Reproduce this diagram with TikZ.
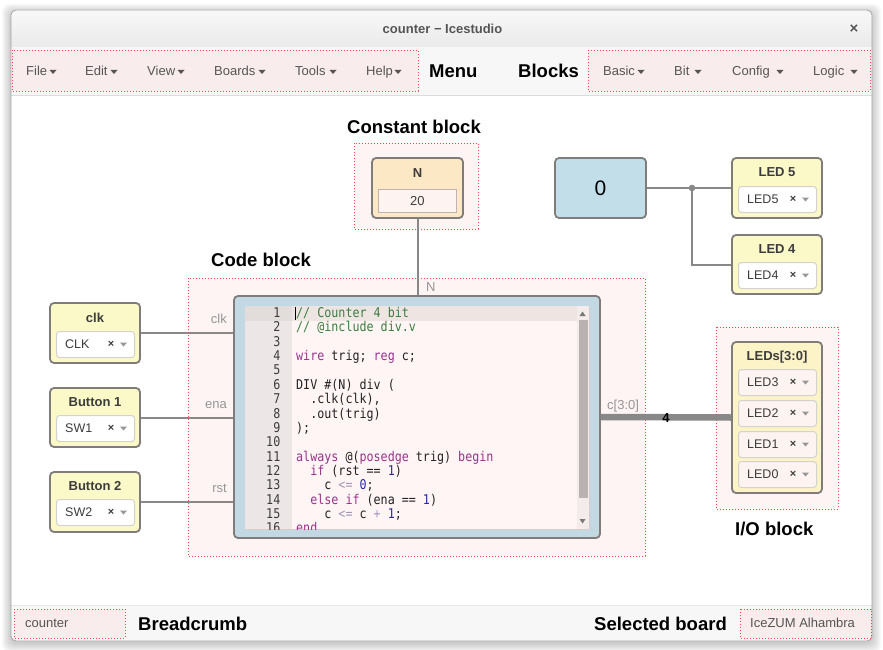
\documentclass[tikz,border=0pt]{standalone}
\usepackage{fontspec}
\usepackage{graphicx}
\setmainfont{Liberation Sans}
\newfontfamily\codefont{DejaVu Sans Mono}
\usetikzlibrary{calc}
\definecolor{wirec}{RGB}{136,136,136}
\definecolor{bordc}{RGB}{128,124,124}
\definecolor{dotred}{RGB}{240,70,70}
\definecolor{dotfill}{RGB}{255,244,244}
\definecolor{menufill}{RGB}{249,236,236}
\definecolor{barbg}{RGB}{247,247,247}
\definecolor{menutext}{RGB}{85,85,85}
\definecolor{portc}{RGB}{150,150,150}
\definecolor{ioyellow}{RGB}{251,249,200}
\definecolor{busyellow}{RGB}{252,243,198}
\definecolor{constor}{RGB}{253,232,197}
\definecolor{codeblue}{RGB}{194,216,226}
\definecolor{zeroblue}{RGB}{194,223,233}
\definecolor{guttc}{RGB}{236,231,230}
\definecolor{guttact}{RGB}{226,220,219}
\definecolor{editbg}{RGB}{255,245,244}
\definecolor{editbord}{RGB}{215,205,205}
\definecolor{actline}{RGB}{238,229,227}
\definecolor{trackc}{RGB}{243,236,235}
\definecolor{thumbc}{RGB}{185,178,176}
\definecolor{arrowc}{RGB}{120,120,120}
\definecolor{cmtcol}{RGB}{60,125,65}
\definecolor{kwcol}{RGB}{155,50,140}
\definecolor{numcol}{RGB}{40,40,170}
\definecolor{opcol}{RGB}{160,150,185}
\definecolor{codetext}{RGB}{34,34,34}
\definecolor{pinkin}{RGB}{253,243,240}
\definecolor{pinkbord}{RGB}{190,180,180}
\definecolor{selborder}{RGB}{212,210,208}
\definecolor{ttlcol}{RGB}{60,60,60}
\definecolor{sepline}{RGB}{220,220,220}
\definecolor{sepline2}{RGB}{232,232,232}
\definecolor{winbord}{RGB}{165,165,165}
\definecolor{titletop}{RGB}{248,248,248}
\definecolor{titlebot}{RGB}{234,234,234}
\newcommand\kwc[1]{\textcolor{kwcol}{#1}}
\newcommand\cmtc[1]{\textcolor{cmtcol}{#1}}
\newcommand\numc[1]{\textcolor{numcol}{#1}}
\newcommand\opc[1]{\textcolor{opcol}{#1}}
\tikzset{
  lbl/.style={font=\fontsize{18.5}{20}\selectfont\bfseries, inner sep=0, anchor=base west},
  mitem/.style={font=\fontsize{13}{15}\selectfont, text=menutext, inner sep=0, anchor=base west},
  dotbox/.style={draw=dotred, line width=0.9pt, dash pattern=on 0.9pt off 2.1pt, fill=dotfill},
  blk/.style={draw=bordc, line width=1.8pt, rounded corners=4pt, inner sep=0},
  sel/.style={draw=selborder, line width=1pt, fill=white, rounded corners=3pt, inner sep=0},
  wire/.style={draw=wirec, line width=2pt},
  port/.style={font=\fontsize{13}{15}\selectfont, text=portc, inner sep=0},
  ttl/.style={font=\fontsize{13}{15}\selectfont\bfseries, text=ttlcol, inner sep=0, anchor=base},
  codeT/.style={inner sep=0, font=\codefont\fontsize{11.7}{13}\selectfont, text=codetext, anchor=base west},
  numT/.style={inner sep=0, font=\codefont\fontsize{11.7}{13}\selectfont, text=ttlcol, anchor=base east},
  dropcaret/.pic={\fill (-3.5,-2) -- (3.5,-2) -- (0,2) -- cycle;}
}
\newcommand\selbox[5]{%
  \node[sel, fill=#5, anchor=north west, minimum width=78pt, minimum height=26pt] (#1) at (#2,#3) {};
  \node[inner sep=0, anchor=west, font=\fontsize{12.5}{14}\selectfont, text=ttlcol] (#1t) at ([xshift=9pt]#1.west) {#4};
  \node[inner sep=0, font=\fontsize{11}{12}\selectfont\bfseries, text=ttlcol] (#1x) at ([xshift=55pt]#1.west) {×};
  \pic[fill=portc] at ([xshift=67.5pt]#1.west) {dropcaret};
}
\newcommand\cl[2]{%
  \node[codeT] (cl#1) at (296,{317.5+(#1-1)*14.36}) {\scalebox{1}[1.15]{#2}};
  \node[numT] (ln#1) at (280.5,{317.5+(#1-1)*14.36}) {\scalebox{1}[1.15]{#1}};
}
\begin{document}
\begin{tikzpicture}[x=1pt, y=-1pt]
\useasboundingbox (0,0) rectangle (883,650);
% shadow
\foreach \i in {1,...,9} {
  \fill[black, opacity=0.022, rounded corners=7pt] (11-\i,{10-\i+3}) rectangle (872+\i,{641+\i+2});
}
% window
\fill[white, rounded corners=5pt] (11,10) rectangle (872,641);
\begin{scope}
  \clip[rounded corners=5pt] (11,10) rectangle (872,641);
  \shade[top color=titletop, bottom color=titlebot] (11,10) rectangle (872,47);
  \fill[barbg] (11,47) rectangle (872,95);
  \draw[sepline, line width=1pt] (11,95.5) -- (872,95.5);
  \fill[barbg] (11,605) rectangle (872,641);
  \draw[sepline2, line width=1pt] (11,605) -- (872,605);
\end{scope}
\draw[winbord, line width=0.8pt, rounded corners=5pt] (11,10) rectangle (872,641);
% title
\node[inner sep=0, anchor=base, font=\fontsize{13}{15}\selectfont\bfseries, text=menutext] (title) at (442.5,33.5) {counter − Icestudio};
\node[inner sep=0, font=\fontsize{15}{15}\selectfont\bfseries, text=menutext] (closex) at (854,29) {×};
% menu box
\draw[dotbox, fill=menufill] (12,50) rectangle (418,91);
\node[mitem] (mfile) at (26,76) {File};
\node[mitem] (medit) at (85,76) {Edit};
\node[mitem] (mview) at (147,76) {View};
\node[mitem] (mboards) at (214,76) {Boards};
\node[mitem] (mtools) at (295,76) {Tools};
\node[mitem] (mhelp) at (366,76) {Help};
\pic[fill=menutext] at (53,72) {dropcaret};
\pic[fill=menutext] at (114,72) {dropcaret};
\pic[fill=menutext] at (181,72) {dropcaret};
\pic[fill=menutext] at (262,72) {dropcaret};
\pic[fill=menutext] at (333,72) {dropcaret};
\pic[fill=menutext] at (398,72) {dropcaret};
\node[lbl] (menulbl) at (429,77.5) {Menu};
\node[lbl] (blockslbl) at (518,77.5) {Blocks};
\draw[dotbox, fill=menufill] (588,50) rectangle (870,91);
\node[mitem] (mbasic) at (603,76) {Basic};
\node[mitem] (mbit) at (674,76) {Bit};
\node[mitem] (mconfig) at (732,76) {Config};
\node[mitem] (mlogic) at (813,76) {Logic};
\pic[fill=menutext] at (641,72) {dropcaret};
\pic[fill=menutext] at (698,72) {dropcaret};
\pic[fill=menutext] at (780,72) {dropcaret};
\pic[fill=menutext] at (854,72) {dropcaret};
% footer
\draw[dotbox, fill=menufill] (14,609) rectangle (125,638);
\node[mitem] (crumb) at (25,627.5) {counter};
\node[lbl] (crumblbl) at (138,630.5) {Breadcrumb};
\node[lbl] (boardlbl) at (594,630.5) {Selected board};
\draw[dotbox, fill=menufill] (740,609) rectangle (871,638);
\node[mitem] (board) at (750,627.5) {IceZUM Alhambra};
% labels
\node[lbl] (constlbl) at (347,133) {Constant block};
\node[lbl] (codelbl) at (211,266) {Code block};
\node[lbl] (iolbl) at (735,535) {I/O block};
% dotted areas
\draw[dotbox] (354,143) rectangle (478,229);
\draw[dotbox] (188,278) rectangle (645,556);
\draw[dotbox] (716,327) rectangle (838,509);
% blocks
\node[blk, fill=codeblue, minimum width=366pt, minimum height=242pt] (code) at (417,417) {};
\node[blk, fill=constor, minimum width=91pt, minimum height=60pt] (cst) at (417.5,188) {};
\node[blk, fill=zeroblue, minimum width=91pt, minimum height=60pt] (zero) at (600.5,188) {};
\node[blk, fill=ioyellow, minimum width=90pt, minimum height=60pt] (led5) at (777,188) {};
\node[blk, fill=ioyellow, minimum width=90pt, minimum height=59pt] (led4) at (777,264.5) {};
\node[blk, fill=busyellow, minimum width=90pt, minimum height=151pt] (leds) at (777,417.5) {};
\node[blk, fill=ioyellow, minimum width=90pt, minimum height=60pt] (clk) at (95,333) {};
\node[blk, fill=ioyellow, minimum width=90pt, minimum height=59pt] (btn1) at (95,417.5) {};
\node[blk, fill=ioyellow, minimum width=90pt, minimum height=60pt] (btn2) at (95,502) {};
% wires
\draw[wire] (clk.east) -- (clk.east -| code.west);
\draw[wire] (btn1.east) -- (btn1.east -| code.west);
\draw[wire] (btn2.east) -- (btn2.east -| code.west);
\draw[wire] (cst.south) -- (cst.south |- code.north);
\coordinate (jn) at (692,188);
\draw[wire] (zero.east) -- (led5.west);
\draw[wire] (jn) |- (led4.west);
\fill[wirec] (jn) circle (3.3);
\draw[wirec, line width=6.5pt] (code.east) -- (leds.west);
\node[inner sep=0, font=\fontsize{13}{15}\selectfont\bfseries] (busw) at (666,418) {4};
% port labels
\node[port, anchor=base east] (pclk) at (227,323) {clk};
\node[port, anchor=base east] (pena) at (227,408) {ena};
\node[port, anchor=base east] (prst) at (227,492) {rst};
\node[port, anchor=base west] (pn) at (426,291) {N};
\node[port, anchor=base west] (pc) at (607,409) {c[3:0]};
% constant content
\node[ttl] (cstT) at (417.5,177) {N};
\node[draw=pinkbord, line width=0.8pt, fill=pinkin, minimum width=78pt, minimum height=23pt, anchor=north west, inner sep=0] (cstIn) at (378,189) {};
\node[inner sep=0, font=\fontsize{13}{15}\selectfont, text=ttlcol] (cstV) at (cstIn.center) {20};
\node[inner sep=0, font=\fontsize{21}{23}\selectfont] (zeroV) at (zero.center) {0};
% IO titles and selectors
\node[ttl] (clkT) at (95,322) {clk};
\selbox{clkS}{56}{331}{CLK}{white}
\node[ttl] (btn1T) at (95,406) {Button 1};
\selbox{btn1S}{56}{415}{SW1}{white}
\node[ttl] (btn2T) at (95,490) {Button 2};
\selbox{btn2S}{56}{499}{SW2}{white}
\node[ttl] (led5T) at (777,176) {LED 5};
\selbox{led5S}{738}{186}{LED5}{white}
\node[ttl] (led4T) at (777,253) {LED 4};
\selbox{led4S}{738}{262}{LED4}{white}
\node[ttl] (ledsT) at (777,360) {LEDs[3:0]};
\selbox{l3S}{738}{369}{LED3}{pinkin}
\selbox{l2S}{738}{400}{LED2}{pinkin}
\selbox{l1S}{738}{431}{LED1}{pinkin}
\selbox{l0S}{738}{461}{LED0}{pinkin}
% code editor
\node[draw=editbord, line width=0.8pt, fill=editbg, anchor=north west, minimum width=344pt, minimum height=223pt, inner sep=0] (editor) at (245,306) {};
\fill[guttc] (245,306) rectangle (292,529);
\fill[actline] (292,306) rectangle (577,321);
\fill[guttact] (245,306) rectangle (292,321);
\fill[trackc] (577,306) rectangle (589,529);
\fill[thumbc] (578.5,320) rectangle (587.5,498);
\fill[arrowc] (579.5,316) -- (585.5,316) -- (582.5,311.5) -- cycle;
\fill[arrowc] (579.5,519) -- (585.5,519) -- (582.5,523.5) -- cycle;
\begin{scope}
\clip (245,306) rectangle (577,529);
\cl{1}{\cmtc{// Counter 4 bit}}
\cl{2}{\cmtc{// @include div.v}}
\cl{3}{}
\cl{4}{\kwc{wire} trig; \kwc{reg} c;}
\cl{5}{}
\cl{6}{DIV \#(N) div (}
\cl{7}{\phantom{xx}.clk(clk),}
\cl{8}{\phantom{xx}.out(trig)}
\cl{9}{);}
\cl{10}{}
\cl{11}{\kwc{always} @(\kwc{posedge} trig) \kwc{begin}}
\cl{12}{\phantom{xx}\kwc{if} (rst == \numc{1})}
\cl{13}{\phantom{xxxx}c \opc{<=} \numc{0};}
\cl{14}{\phantom{xx}\kwc{else} \kwc{if} (ena == \numc{1})}
\cl{15}{\phantom{xxxx}c \opc{<=} c \opc{+} \numc{1};}
\cl{16}{\kwc{end}}
\draw[black, line width=0.6pt] (295.5,307) -- (295.5,320);
\end{scope}
\end{tikzpicture}
\end{document}
